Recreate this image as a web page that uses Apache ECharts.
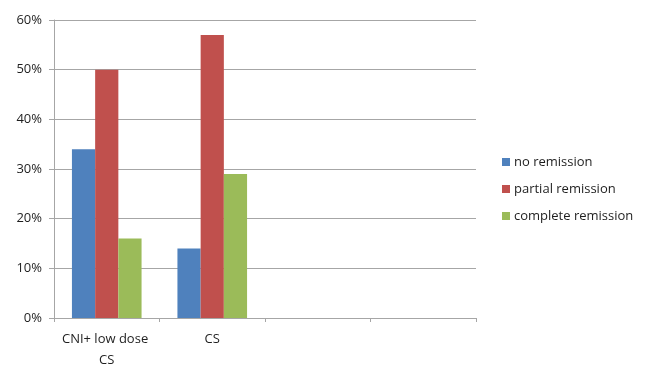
<!DOCTYPE html>
<html>
<head>
<meta charset="utf-8">
<script src="https://cdn.jsdelivr.net/npm/echarts@6/dist/echarts.min.js"></script>
<style>html,body{margin:0;padding:0;background:#fff}#c{width:655px;height:372px}</style>
</head>
<body>
<div id="c"></div>
<script>
var categories = ["CNI+ low dose CS", "CS", "", ""];
var noRemission = [34, 14, null, null];
var partialRemission = [50, 57, null, null];
var completeRemission = [16, 29, null, null];
var seriesNames = ["no remission", "partial remission", "complete remission"];
var yTicks = { min: 0, max: 60, interval: 10 };

var font = "'Open Sans', 'DejaVu Sans', sans-serif";
var gray = "#a6a6a6";
var chart = echarts.init(document.getElementById('c'), null, { renderer: 'canvas' });
function bar(name, data, color) {
  return { name: name, type: 'bar', data: data, barGap: '0%', barCategoryGap: '34%',
    itemStyle: { color: color }, emphasis: { disabled: true } };
}
chart.setOption({
  animation: false,
  textStyle: { fontFamily: font },
  grid: { left: 54, right: 179, top: 20, bottom: 54, containLabel: false },
  legend: {
    orient: 'vertical', left: 497, top: 148, itemWidth: 8, itemHeight: 8, itemGap: 9,
    icon: 'rect',
    textStyle: { fontFamily: font, fontSize: 13, color: '#1e1e1e', lineHeight: 18, padding: [0, 0, 0, -1] },
    data: seriesNames
  },
  xAxis: {
    type: 'category', data: categories, boundaryGap: true,
    axisLine: { lineStyle: { color: gray, width: 1 } },
    axisTick: { show: true, length: 4, lineStyle: { color: gray } },
    axisLabel: { interval: 0, color: '#1e1e1e', fontSize: 13, fontFamily: font, margin: 11,
      lineHeight: 21, width: 96, overflow: 'break' }
  },
  yAxis: {
    type: 'value', min: yTicks.min, max: yTicks.max, interval: yTicks.interval,
    axisLine: { show: true, lineStyle: { color: gray } },
    axisTick: { show: true, length: 5, lineStyle: { color: gray } },
    splitLine: { lineStyle: { color: gray, width: 1 } },
    axisLabel: { formatter: '{value}%', color: '#1e1e1e', fontSize: 13, fontFamily: font, margin: 12 }
  },
  series: [
    bar(seriesNames[0], noRemission, '#4f81bd'),
    bar(seriesNames[1], partialRemission, '#c0504d'),
    bar(seriesNames[2], completeRemission, '#9bbb59')
  ]
});
</script>
</body>
</html>
